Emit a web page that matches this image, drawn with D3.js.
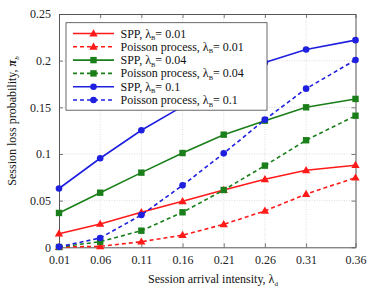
<!DOCTYPE html>
<html><head><meta charset="utf-8">
<script src="https://cdn.jsdelivr.net/npm/d3@7"></script>
<style>
html,body{margin:0;padding:0;background:#fff;}
</style></head>
<body>
<script>
const xValues = [0.01, 0.06, 0.11, 0.16, 0.21, 0.26, 0.31, 0.37];
const xTickLabels = ["0.01","0.06","0.11","0.16","0.21","0.26","0.31","0.36"];
const yTicks = [0, 0.05, 0.1, 0.15, 0.2, 0.25];
const yTickLabels = ["0","0.05","0.1","0.15","0.2","0.25"];
const spp001 = [0.0146, 0.025, 0.0375, 0.0493, 0.0614, 0.0729, 0.0825, 0.088];
const poi001 = [0.0003, 0.001, 0.006, 0.013, 0.0246, 0.039, 0.057, 0.0746];
const spp004 = [0.0368, 0.0585, 0.080, 0.101, 0.1207, 0.1357, 0.150, 0.159];
const poi004 = [0.0003, 0.006, 0.0178, 0.0375, 0.0614, 0.0875, 0.1147, 0.141];
const spp01 = [0.063, 0.0954, 0.1254, 0.151, 0.175, 0.198, 0.212, 0.222];
const poi01 = [0.0005, 0.010, 0.0346, 0.0664, 0.1007, 0.1368, 0.170, 0.2007];
const seriesNames = ["SPP", "Poisson process", "SPP", "Poisson process", "SPP", "Poisson process"];
const lambdaB = ["0.01", "0.01", "0.04", "0.04", "0.1", "0.1"];

const FONT = "'Liberation Serif','Times New Roman','DejaVu Serif',serif";
const W = 374, H = 291;
const m = {l: 59, r: 355.5, t: 14, b: 247.3};
const svg = d3.select("body").append("svg").attr("width", W).attr("height", H)
  .attr("font-family", FONT).style("font-family", FONT);

const x = d3.scaleLinear().domain([0.01, 0.37]).range([m.l, m.r]);
const y = d3.scaleLinear().domain([0, 0.25]).range([m.b, m.t]);

const red = "#ff1a1a", green = "#1a7f1a", blue = "#1f1fe0";
const series = [
  {v: spp001, c: red, dash: null, mk: "tri"},
  {v: poi001, c: red, dash: "4,3", mk: "tri"},
  {v: spp004, c: green, dash: null, mk: "sq"},
  {v: poi004, c: green, dash: "4,3", mk: "sq"},
  {v: spp01, c: blue, dash: null, mk: "circ"},
  {v: poi01, c: blue, dash: "4,3", mk: "circ"}
];

// grid
const g = svg.append("g");
g.selectAll(".gx").data(xValues.slice(1, -1)).enter().append("line")
  .attr("x1", d => x(d)).attr("x2", d => x(d)).attr("y1", m.t).attr("y2", m.b)
  .attr("stroke", "#c8c8c8").attr("stroke-width", 0.6).attr("stroke-dasharray", "1,1.5");
g.selectAll(".gy").data(yTicks.slice(1, -1)).enter().append("line")
  .attr("y1", d => y(d)).attr("y2", d => y(d)).attr("x1", m.l).attr("x2", m.r)
  .attr("stroke", "#c8c8c8").attr("stroke-width", 0.6).attr("stroke-dasharray", "1,1.5");

// axes
const axCol = "#555";
const xAxis = d3.axisBottom(x).tickValues(xValues).tickFormat((d, i) => xTickLabels[i]).tickSizeInner(-4).tickSizeOuter(0).tickPadding(8);
const yAxis = d3.axisLeft(y).tickValues(yTicks).tickFormat((d, i) => yTickLabels[i]).tickSizeInner(-4).tickSizeOuter(0).tickPadding(8);
const xTop = d3.axisTop(x).tickValues(xValues).tickFormat("").tickSizeInner(-4).tickSizeOuter(0);
const yRight = d3.axisRight(y).tickValues(yTicks).tickFormat("").tickSizeInner(-4).tickSizeOuter(0);
function styleAx(sel) {
  sel.attr("font-family", FONT).attr("font-size", 12);
  sel.selectAll("path").attr("stroke", axCol).attr("stroke-width", 1);
  sel.selectAll("line").attr("stroke", axCol).attr("stroke-width", 0.8);
  sel.selectAll("text").attr("fill", "#222").attr("font-family", FONT).attr("font-size", 12);
}
svg.append("g").attr("transform", `translate(0,${m.b})`).call(xAxis).call(styleAx);
svg.append("g").attr("transform", `translate(${m.l},0)`).call(yAxis).call(styleAx);
svg.append("g").attr("transform", `translate(0,${m.t})`).call(xTop).call(styleAx);
svg.append("g").attr("transform", `translate(${m.r},0)`).call(yRight).call(styleAx);

// markers
function marker(sel, type, cx, cy, c) {
  if (type === "tri") {
    sel.append("path").attr("d", d3.symbol().type(d3.symbolTriangle).size(30)()).attr("transform", `translate(${cx},${cy + 0.5})`).attr("fill", c);
  } else if (type === "sq") {
    sel.append("rect").attr("x", cx - 3.2).attr("y", cy - 3.2).attr("width", 6.4).attr("height", 6.4).attr("fill", c);
  } else {
    sel.append("circle").attr("cx", cx).attr("cy", cy).attr("r", 3.3).attr("fill", c);
  }
}

const line = d3.line().x((d, i) => x(xValues[i])).y(d => y(d));
series.forEach(s => {
  svg.append("path").datum(s.v).attr("d", line).attr("fill", "none")
    .attr("stroke", s.c).attr("stroke-width", 1.6).attr("stroke-dasharray", s.dash);
  const mg = svg.append("g");
  s.v.forEach((v, i) => marker(mg, s.mk, x(xValues[i]), y(v), s.c));
});

// legend
const lg = svg.append("g");
lg.append("rect").attr("x", 66).attr("y", 22.7).attr("width", 201).attr("height", 87.5)
  .attr("fill", "#fff").attr("stroke", "#444").attr("stroke-width", 0.8);
series.forEach((s, i) => {
  const yy = 33.5 + i * 13.3;
  lg.append("line").attr("x1", 73).attr("x2", 114).attr("y1", yy).attr("y2", yy)
    .attr("stroke", s.c).attr("stroke-width", 1.6).attr("stroke-dasharray", s.dash);
  marker(lg, s.mk, 93.5, yy, s.c);
  const t = lg.append("text").attr("x", 120.5).attr("y", yy + 4).attr("fill", "#111").attr("font-size", 12);
  t.append("tspan").text(seriesNames[i] + ", λ");
  t.append("tspan").attr("dy", 2.5).attr("font-size", 6.5).text("B");
  t.append("tspan").attr("dy", -2.5).text("= " + lambdaB[i]);
});

// axis titles
const xt = svg.append("text").attr("x", 213).attr("y", 283).attr("text-anchor", "middle").attr("fill", "#111").attr("font-size", 12);
xt.append("tspan").text("Session arrival intensity, λ");
xt.append("tspan").attr("dy", 2.5).attr("font-size", 7).text("d");

const yt = svg.append("text").attr("transform", `translate(16,121) rotate(-90)`).attr("text-anchor", "middle").attr("fill", "#111").attr("font-size", 12);
yt.append("tspan").text("Session loss probability, ");
yt.append("tspan").attr("font-weight", "bold").attr("font-style", "italic").text("π");
yt.append("tspan").attr("dy", 2.5).attr("font-size", 7).attr("font-style", "italic").text("b");
</script>
</body></html>
